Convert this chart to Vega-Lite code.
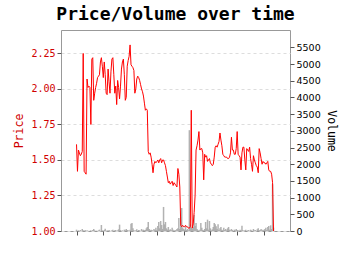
{
  "$schema": "https://vega.github.io/schema/vega-lite/v6.json",
  "width": 229,
  "height": 201,
  "autosize": {"type": "none"},
  "padding": {"left": 61, "top": 30, "right": 60, "bottom": 24},
  "title": {"text": "Price/Volume over time", "font": "DejaVu Sans Mono", "fontSize": 18, "fontWeight": "bold", "color": "#000", "anchor": "middle", "offset": 6},
  "config": {
    "view": {"stroke": "#999", "strokeWidth": 1},
    "axis": {"domain": false, "tickColor": "#555", "tickSize": 4, "labelPadding": 2}
  },
  "data": {"values": [
    {"d":0,"price":1.61,"volume":40},{"d":1,"price":1.42,"volume":0},{"d":2,"price":1.57,"volume":20},{"d":3,"price":1.55,"volume":0},{"d":4,"price":1.53,"volume":30},{"d":5,"price":1.54,"volume":0},{"d":6,"price":1.56,"volume":60},{"d":7,"price":2.25,"volume":20},{"d":8,"price":1.42,"volume":0},{"d":9,"price":1.41,"volume":30},
    {"d":10,"price":1.40,"volume":0},{"d":11,"price":2.07,"volume":20},{"d":12,"price":2.01,"volume":0},{"d":13,"price":2.02,"volume":10},{"d":14,"price":2.01,"volume":0},{"d":15,"price":1.75,"volume":20},{"d":16,"price":2.21,"volume":0},{"d":17,"price":2.22,"volume":30},{"d":18,"price":1.92,"volume":60},{"d":19,"price":1.97,"volume":20},
    {"d":20,"price":2.01,"volume":0},{"d":21,"price":2.04,"volume":10},{"d":22,"price":2.08,"volume":0},{"d":23,"price":2.09,"volume":20},{"d":24,"price":2.10,"volume":40},{"d":25,"price":2.19,"volume":0},{"d":26,"price":2.22,"volume":180},{"d":27,"price":2.16,"volume":20},{"d":28,"price":2.08,"volume":0},{"d":29,"price":2.19,"volume":30},
    {"d":30,"price":2.10,"volume":70},{"d":31,"price":1.97,"volume":0},{"d":32,"price":1.96,"volume":20},{"d":33,"price":2.14,"volume":0},{"d":34,"price":2.05,"volume":30},{"d":35,"price":1.97,"volume":10},{"d":36,"price":2.12,"volume":0},{"d":37,"price":2.21,"volume":20},{"d":38,"price":2.22,"volume":40},{"d":39,"price":2.10,"volume":0},
    {"d":40,"price":1.97,"volume":20},{"d":41,"price":2.02,"volume":30},{"d":42,"price":1.89,"volume":0},{"d":43,"price":2.06,"volume":20},{"d":44,"price":2.01,"volume":50},{"d":45,"price":1.93,"volume":190},{"d":46,"price":2.02,"volume":30},{"d":47,"price":2.14,"volume":0},{"d":48,"price":2.19,"volume":20},{"d":49,"price":2.21,"volume":0},
    {"d":50,"price":2.10,"volume":40},{"d":51,"price":1.92,"volume":20},{"d":52,"price":1.94,"volume":60},{"d":53,"price":2.16,"volume":30},{"d":54,"price":2.20,"volume":20},{"d":55,"price":2.23,"volume":0},{"d":56,"price":2.31,"volume":40},{"d":57,"price":2.17,"volume":220},{"d":58,"price":2.16,"volume":240},{"d":59,"price":2.15,"volume":80},
    {"d":60,"price":2.13,"volume":30},{"d":61,"price":1.97,"volume":0},{"d":62,"price":2.00,"volume":20},{"d":63,"price":2.07,"volume":50},{"d":64,"price":2.09,"volume":0},{"d":65,"price":2.08,"volume":30},{"d":66,"price":2.06,"volume":20},{"d":67,"price":2.03,"volume":0},{"d":68,"price":2.00,"volume":60},{"d":69,"price":1.98,"volume":20},
    {"d":70,"price":1.95,"volume":40},{"d":71,"price":1.90,"volume":20},{"d":72,"price":1.85,"volume":30},{"d":73,"price":1.86,"volume":80},{"d":74,"price":1.85,"volume":120},{"d":75,"price":1.56,"volume":270},{"d":76,"price":1.54,"volume":60},{"d":77,"price":1.55,"volume":20},{"d":78,"price":1.52,"volume":40},{"d":79,"price":1.47,"volume":30},
    {"d":80,"price":1.41,"volume":0},{"d":81,"price":1.47,"volume":60},{"d":82,"price":1.49,"volume":30},{"d":83,"price":1.48,"volume":100},{"d":84,"price":1.49,"volume":20},{"d":85,"price":1.50,"volume":150},{"d":86,"price":1.48,"volume":270},{"d":87,"price":1.50,"volume":80},{"d":88,"price":1.51,"volume":300},{"d":89,"price":1.48,"volume":180},
    {"d":90,"price":1.50,"volume":60},{"d":91,"price":1.50,"volume":720},{"d":92,"price":1.48,"volume":200},{"d":93,"price":1.46,"volume":270},{"d":94,"price":1.42,"volume":80},{"d":95,"price":1.38,"volume":40},{"d":96,"price":1.34,"volume":120},{"d":97,"price":1.35,"volume":30},{"d":98,"price":1.33,"volume":50},{"d":99,"price":1.34,"volume":20},
    {"d":100,"price":1.35,"volume":100},{"d":101,"price":1.32,"volume":40},{"d":102,"price":1.34,"volume":0},{"d":103,"price":1.33,"volume":30},{"d":104,"price":1.32,"volume":20},{"d":105,"price":1.31,"volume":60},{"d":106,"price":1.44,"volume":80},{"d":107,"price":1.40,"volume":390},{"d":108,"price":1.31,"volume":60},{"d":109,"price":1.04,"volume":430},
    {"d":110,"price":1.03,"volume":690},{"d":111,"price":1.04,"volume":100},{"d":112,"price":1.03,"volume":60},{"d":113,"price":1.03,"volume":40},{"d":114,"price":1.04,"volume":150},{"d":115,"price":1.03,"volume":30},{"d":116,"price":1.03,"volume":60},{"d":117,"price":1.02,"volume":20},{"d":118,"price":1.02,"volume":3020},{"d":119,"price":1.03,"volume":200},
    {"d":120,"price":1.85,"volume":100},{"d":121,"price":1.02,"volume":60},{"d":122,"price":1.05,"volume":120},{"d":123,"price":1.13,"volume":480},{"d":124,"price":1.25,"volume":150},{"d":125,"price":1.57,"volume":240},{"d":126,"price":1.60,"volume":60},{"d":127,"price":1.64,"volume":30},{"d":128,"price":1.70,"volume":0},{"d":129,"price":1.57,"volume":40},
    {"d":130,"price":1.58,"volume":240},{"d":131,"price":1.58,"volume":100},{"d":132,"price":1.55,"volume":30},{"d":133,"price":1.36,"volume":20},{"d":134,"price":1.54,"volume":60},{"d":135,"price":1.52,"volume":270},{"d":136,"price":1.53,"volume":80},{"d":137,"price":1.49,"volume":340},{"d":138,"price":1.50,"volume":40},{"d":139,"price":1.51,"volume":300},
    {"d":140,"price":1.48,"volume":80},{"d":141,"price":1.47,"volume":20},{"d":142,"price":1.46,"volume":50},{"d":143,"price":1.47,"volume":120},{"d":144,"price":1.52,"volume":240},{"d":145,"price":1.59,"volume":200},{"d":146,"price":1.60,"volume":140},{"d":147,"price":1.59,"volume":60},{"d":148,"price":1.61,"volume":200},{"d":149,"price":1.63,"volume":30},
    {"d":150,"price":1.69,"volume":80},{"d":151,"price":1.64,"volume":120},{"d":152,"price":1.60,"volume":40},{"d":153,"price":1.54,"volume":20},{"d":154,"price":1.53,"volume":100},{"d":155,"price":1.52,"volume":30},{"d":156,"price":1.52,"volume":60},{"d":157,"price":1.52,"volume":20},{"d":158,"price":1.51,"volume":80},{"d":159,"price":1.51,"volume":120},
    {"d":160,"price":1.52,"volume":40},{"d":161,"price":1.55,"volume":20},{"d":162,"price":1.66,"volume":60},{"d":163,"price":1.57,"volume":30},{"d":164,"price":1.57,"volume":0},{"d":165,"price":1.54,"volume":40},{"d":166,"price":1.54,"volume":20},{"d":167,"price":1.58,"volume":60},{"d":168,"price":1.70,"volume":30},{"d":169,"price":1.54,"volume":20},
    {"d":170,"price":1.53,"volume":0},{"d":171,"price":1.52,"volume":40},{"d":172,"price":1.43,"volume":20},{"d":173,"price":1.55,"volume":160},{"d":174,"price":1.59,"volume":30},{"d":175,"price":1.59,"volume":0},{"d":176,"price":1.50,"volume":20},{"d":177,"price":1.43,"volume":40},{"d":178,"price":1.58,"volume":0},{"d":179,"price":1.57,"volume":20},
    {"d":180,"price":1.56,"volume":30},{"d":181,"price":1.59,"volume":0},{"d":182,"price":1.51,"volume":40},{"d":183,"price":1.47,"volume":20},{"d":184,"price":1.42,"volume":0},{"d":185,"price":1.53,"volume":60},{"d":186,"price":1.50,"volume":20},{"d":187,"price":1.48,"volume":30},{"d":188,"price":1.46,"volume":0},{"d":189,"price":1.45,"volume":50},
    {"d":190,"price":1.41,"volume":80},{"d":191,"price":1.58,"volume":20},{"d":192,"price":1.55,"volume":30},{"d":193,"price":1.51,"volume":60},{"d":194,"price":1.47,"volume":20},{"d":195,"price":1.49,"volume":40},{"d":196,"price":1.48,"volume":20},{"d":197,"price":1.48,"volume":60},{"d":198,"price":1.47,"volume":100},{"d":199,"price":1.48,"volume":30},
    {"d":200,"price":1.49,"volume":120},{"d":201,"price":1.43,"volume":150},{"d":202,"price":1.42,"volume":40},{"d":203,"price":1.42,"volume":170},{"d":204,"price":1.40,"volume":60},{"d":205,"price":1.34,"volume":1400},{"d":206,"price":1.00,"volume":100}
  ]},
  "encoding": {
    "x": {"field": "d", "type": "quantitative", "scale": {"domain": [-11, 218], "nice": false, "zero": false},
          "axis": {"orient": "bottom", "labels": false, "title": null, "grid": false, "values": [0, 28, 56, 84, 112, 140, 168, 196]}}
  },
  "layer": [
    {
      "mark": {"type": "bar", "size": 1.5, "color": "#aaa", "opacity": 0.9},
      "encoding": {
        "y": {"field": "volume", "type": "quantitative", "scale": {"domain": [0, 6020], "nice": false},
              "axis": {"orient": "right", "grid": false, "values": [0,500,1000,1500,2000,2500,3000,3500,4000,4500,5000,5500], "format": "d",
                       "labelFont": "DejaVu Sans", "labelFontSize": 9.5, "labelColor": "#000",
                       "title": "Volume", "titleFont": "DejaVu Sans Mono", "titleFontSize": 11.5, "titleFontWeight": "normal", "titleColor": "#000", "titleAngle": 90, "titlePadding": 5}}
      }
    },
    {
      "mark": {"type": "line", "color": "#ff0000", "strokeWidth": 1},
      "encoding": {
        "y": {"field": "price", "type": "quantitative", "scale": {"domain": [1.0, 2.415], "nice": false, "zero": false},
              "axis": {"orient": "left", "values": [1, 1.25, 1.5, 1.75, 2, 2.25], "format": ".2f",
                       "grid": true, "gridDash": [3, 3], "gridColor": "#ddd",
                       "labelFont": "DejaVu Sans Mono", "labelFontSize": 10, "labelColor": "#d00000",
                       "title": "Price", "titleFont": "DejaVu Sans Mono", "titleFontSize": 11.5, "titleFontWeight": "normal", "titleColor": "#d00000", "titlePadding": 6}}
      }
    }
  ],
  "resolve": {"scale": {"y": "independent"}}
}
